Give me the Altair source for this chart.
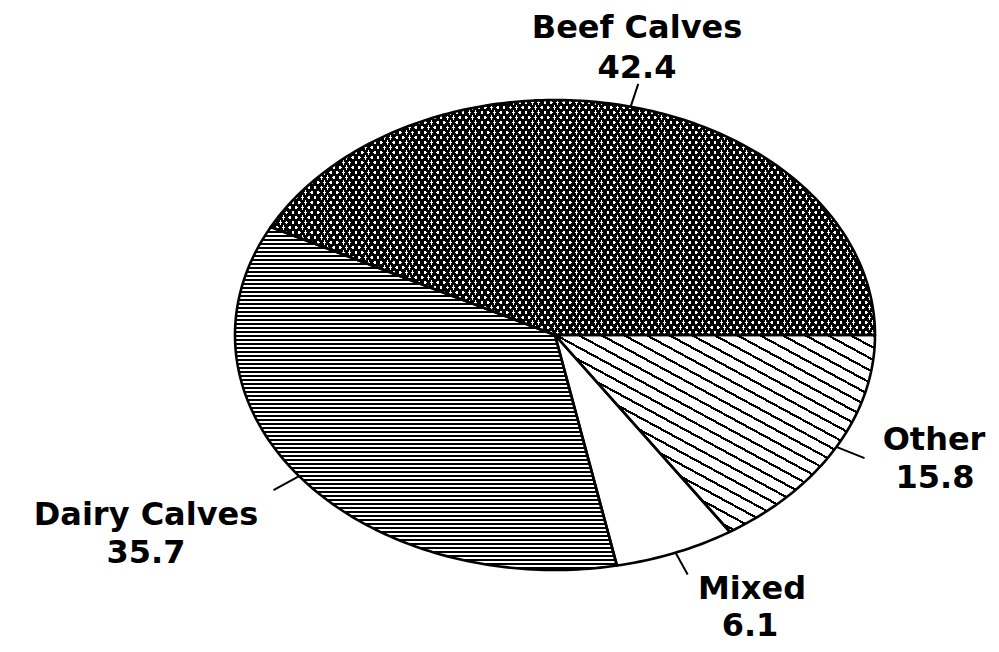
import math
import altair as alt

# ---------------- data ----------------
categories = ["Beef Calves", "Dairy Calves", "Mixed", "Other"]
values = [42.4, 35.7, 6.1, 15.8]
value_labels = ["42.4", "35.7", "6.1", "15.8"]

# ---------------- layout / style ----------------
SCALE = 320.0            # px per unit (horizontal radius of the tilted pie)
RY = 235.0 / 320.0       # vertical squash of the tilted pie
CX, CY = 547, 327        # pie centre in plot px
LEADER = 1.1             # leader line end, relative to the rim
# label (centre x, baseline y) offsets from pie centre in px: [name line, value line]
LABEL_POS = {
    "Beef Calves": [(82, -297), (82, -257)],
    "Dairy Calves": [(-409, 190), (-409, 228)],
    "Mixed": [(197, 264), (195, 301)],
    "Other": [(379, 115), (380, 153)],
}
FONT = "DejaVu Sans"
FONT_SIZE = 32


def stripes(W, H, normal, period, width, dark, light, phase=0.0):
    """Linear gradient drawing uniform stripes (in px) across a W x H bbox."""
    dx, dy = normal
    n = math.hypot(dx, dy)
    dx, dy = dx / n, dy / n
    u0 = 0 if dx >= 0 else 1
    v0 = 0 if dy >= 0 else 1
    D = abs(dx) * W + abs(dy) * H
    gx, gy = dx * W, dy * H
    g2 = gx * gx + gy * gy
    a, b = gx * D / g2, gy * D / g2
    stops = [{"offset": 0, "color": light}]
    s = phase
    while s < D:
        s0, s1 = s / D, min(s + width, D) / D
        stops += [
            {"offset": round(s0, 6), "color": light},
            {"offset": round(s0, 6), "color": dark},
            {"offset": round(s1, 6), "color": dark},
            {"offset": round(s1, 6), "color": light},
        ]
        s += period
    stops.append({"offset": 1, "color": light})
    return {"gradient": "linear", "x1": u0, "y1": v0,
            "x2": u0 + a, "y2": v0 + b, "stops": stops}


total = sum(values)
slices = []
start = 0.0
for cat, v in zip(categories, values):
    span = 360.0 * v / total
    a0, a1 = start, start + span
    nseg = max(4, int(span))
    ring = [[0.0, 0.0]]
    for i in range(nseg + 1):
        t = math.radians(a0 + (a1 - a0) * i / nseg)
        ring.append([math.cos(t), RY * math.sin(t)])
    ring.append([0.0, 0.0])
    xs = [p[0] * SCALE for p in ring]
    ys = [-p[1] * SCALE for p in ring]
    slices.append({
        "name": cat,
        "mid": math.radians((a0 + a1) / 2),
        "ring": ring,
        "W": max(xs) - min(xs),
        "H": max(ys) - min(ys),
    })
    start = a1


def feature(sl):
    return {"type": "Feature", "properties": {"name": sl["name"]},
            "geometry": {"type": "Polygon", "coordinates": [sl["ring"]]}}


proj = alt.Projection(type="identity", reflectY=True, scale=SCALE, translate=[CX, CY])

BLACK, WHITE, CLEAR = "#000000", "#ffffff", "rgba(0,0,0,0)"
patterns = {
    "Beef Calves": [
        lambda W, H: stripes(W, H, (0.846, -0.533), 5.33, 2.9, BLACK, WHITE),
        lambda W, H: stripes(W, H, (0.846, 0.533), 5.33, 2.9, BLACK, CLEAR),
    ],
    "Dairy Calves": [lambda W, H: stripes(W, H, (0, 1), 4.0, 2.5, BLACK, WHITE)],
    "Mixed": [lambda W, H: WHITE],
    "Other": [lambda W, H: stripes(W, H, (-0.477, 0.879), 10.8, 2.2, BLACK, WHITE)],
}

layers = []
for sl in slices:
    for make in patterns[sl["name"]]:
        fill = make(sl["W"], sl["H"])
        layers.append(
            alt.Chart(alt.Data(values=[feature(sl)]))
            .mark_geoshape(fill=fill, strokeWidth=0)
            .project(**proj.to_dict())
        )

# outlines
layers.append(
    alt.Chart(alt.Data(values=[feature(sl) for sl in slices]))
    .mark_geoshape(filled=False, stroke=BLACK, strokeWidth=2.6, strokeJoin="round")
    .project(**proj.to_dict())
)

# leader lines
leader_rows = []
for sl in slices:
    m = sl["mid"]
    x, y = math.cos(m), RY * math.sin(m)
    leader_rows.append({"lon": x, "lat": y, "lon2": LEADER * x, "lat2": LEADER * y})
layers.append(
    alt.Chart(alt.Data(values=leader_rows))
    .mark_rule(stroke=BLACK, strokeWidth=2)
    .encode(longitude="lon:Q", latitude="lat:Q", longitude2="lon2:Q", latitude2="lat2:Q")
    .project(**proj.to_dict())
)

# labels
label_rows = []
for cat, lab in zip(categories, value_labels):
    (nx, ny), (vx, vy) = LABEL_POS[cat]
    label_rows.append({"lon": nx / SCALE, "lat": -ny / SCALE, "text": cat})
    label_rows.append({"lon": vx / SCALE, "lat": -vy / SCALE, "text": lab})
layers.append(
    alt.Chart(alt.Data(values=label_rows))
    .mark_text(font=FONT, fontSize=FONT_SIZE, fontWeight="bold", align="center",
               baseline="alphabetic", color=BLACK)
    .encode(longitude="lon:Q", latitude="lat:Q", text="text:N")
    .project(**proj.to_dict())
)

chart = (
    alt.layer(*layers)
    .properties(width=983, height=636, padding=0, autosize="none", background="white")
    .configure_view(strokeWidth=0)
)

chart.save("out.html", embed_options={"renderer": "svg", "actions": False})
